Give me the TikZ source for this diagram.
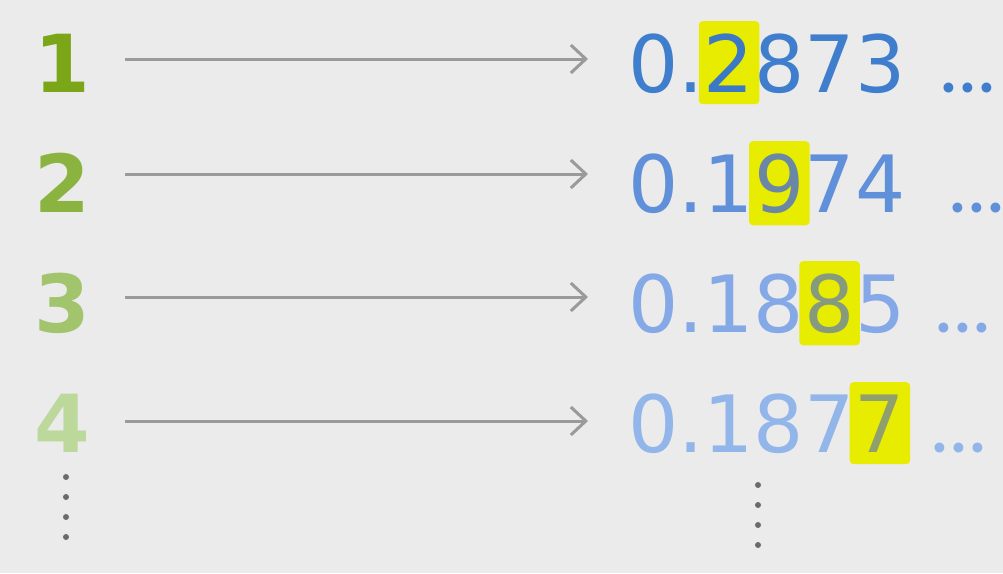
\documentclass[tikz,border=0pt]{standalone}
\usepackage{fontspec}
\setmainfont{DejaVu Sans}
\newfontfamily\idxfont{DejaVu Sans Bold}
\newfontfamily\dotfont[LetterSpace=3]{Poppins}
\usepackage{tikz}
\usetikzlibrary{arrows.meta,fit,backgrounds}
\definecolor{bgc}{HTML}{EBEBEB}
\definecolor{gA}{HTML}{7AA617}
\definecolor{gB}{HTML}{8AB43F}
\definecolor{gC}{HTML}{A1C46C}
\definecolor{gD}{HTML}{BCD89B}
\definecolor{bA}{HTML}{3F7DCD}
\definecolor{bB}{HTML}{6090DA}
\definecolor{bC}{HTML}{84A9E6}
\definecolor{bD}{HTML}{92B5EA}
\definecolor{hA}{HTML}{3B78C6}
\definecolor{hB}{HTML}{6A87A6}
\definecolor{hC}{HTML}{869A7E}
\definecolor{hD}{HTML}{8FA06E}
\definecolor{hlc}{HTML}{E8EC00}
\definecolor{arrc}{HTML}{9A9A9A}
\definecolor{vdot}{HTML}{6B6B6B}

\begin{document}
\begin{tikzpicture}[x=1pt,y=-1pt,
  idx/.style={font=\idxfont\fontsize{80}{80}\selectfont,inner sep=0,anchor=base},
  num/.style={font=\fontsize{79}{79}\selectfont,inner sep=0,anchor=base west},
  more/.style={font=\dotfont\fontsize{80}{80}\selectfont,inner sep=0,anchor=base west},
  hl/.style={fill=hlc,rounded corners=4pt,inner xsep=5pt,inner ysep=12pt},
  arr/.style={draw=arrc,line width=3pt,-{Straight Barb[length=15pt,width=28pt]}}]
  \useasboundingbox (0,0) rectangle (1003,573);

  \node[idx,text=gA] (n1) at (62,92) {1};
  \node[idx,text=gB] (n2) at (62,212) {2};
  \node[idx,text=gC] (n3) at (62,332) {3};
  \node[idx,text=gD] (n4) at (62,452) {4};

  \node[num,text=bA] (r1a) at (628,92) {0.};
  \node[num,text=hA] (r1b) at (r1a.base east) {2};
  \node[num,text=bA] (r1c) at (r1b.base east) {873};
  \node[more,text=bA] (r1d) at (940,92) {...};

  \node[num,text=bB] (r2a) at (628,212) {0.1};
  \node[num,text=hB] (r2b) at (r2a.base east) {9};
  \node[num,text=bB] (r2c) at (r2b.base east) {74};
  \node[more,text=bB] (r2d) at (949,212) {...};

  \node[num,text=bC] (r3a) at (628,332) {0.18};
  \node[num,text=hC] (r3b) at (r3a.base east) {8};
  \node[num,text=bC] (r3c) at (r3b.base east) {5};
  \node[more,text=bC] (r3d) at (935,332) {...};

  \node[num,text=bD] (r4a) at (628,452) {0.187};
  \node[num,text=hD] (r4b) at (r4a.base east) {7};
  \node[more,text=bD] (r4d) at (931,452) {...};

  \begin{scope}[on background layer]
    \fill[bgc] (0,0) rectangle (1003,573);
    \node[hl,fit=(r1b)] (h1) {};
    \node[hl,fit=(r2b)] (h2) {};
    \node[hl,fit=(r3b)] (h3) {};
    \node[hl,fit=(r4b)] (h4) {};
  \end{scope}

  \coordinate (s1) at (125,59);  \coordinate (e1) at (588,59);
  \coordinate (s2) at (125,174); \coordinate (e2) at (588,174);
  \coordinate (s3) at (125,297); \coordinate (e3) at (588,297);
  \coordinate (s4) at (125,421); \coordinate (e4) at (588,421);
  \draw[arr] (s1) -- (e1);
  \draw[arr] (s2) -- (e2);
  \draw[arr] (s3) -- (e3);
  \draw[arr] (s4) -- (e4);

  \foreach \k in {0,1,2,3}{
    \fill[vdot] (66,477+20*\k) circle (3pt);
    \fill[vdot] (758,485+20*\k) circle (3pt);
  }
\end{tikzpicture}
\end{document}
